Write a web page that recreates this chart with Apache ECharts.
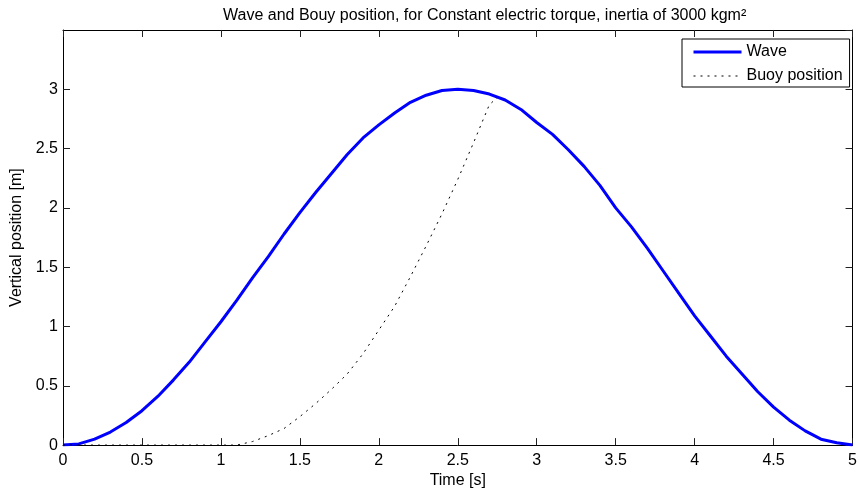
<!DOCTYPE html>
<html>
<head>
<meta charset="utf-8">
<script src="https://cdn.jsdelivr.net/npm/echarts@6/dist/echarts.min.js"></script>
<style>
html,body{margin:0;padding:0;background:#fff;}
#chart{width:860px;height:494px;}
</style>
</head>
<body>
<div id="chart"></div>
<script>
var titleText = 'Wave and Bouy position, for Constant electric torque, inertia of 3000 kgm\u00B2';
var xAxisName = 'Time [s]';
var yAxisName = 'Vertical position [m]';
var seriesNames = ['Wave', 'Buoy position'];

var waveTime = [0, 0.1, 0.2, 0.3, 0.4, 0.5, 0.6, 0.7, 0.8, 0.9,
                1.0, 1.1, 1.2, 1.3, 1.4, 1.5, 1.6, 1.7, 1.8, 1.9,
                2.0, 2.1, 2.2, 2.3, 2.4, 2.5, 2.6, 2.7, 2.8, 2.9,
                3.0, 3.1, 3.2, 3.3, 3.4, 3.5, 3.6, 3.7, 3.8, 3.9,
                4.0, 4.1, 4.2, 4.3, 4.4, 4.5, 4.6, 4.7, 4.8, 4.9, 5.0];
var waveValues = [0.00, 0.01, 0.05, 0.11, 0.19, 0.29, 0.41, 0.55, 0.70, 0.87,
                  1.04, 1.22, 1.41, 1.59, 1.78, 1.96, 2.13, 2.29, 2.45, 2.59,
                  2.70, 2.80, 2.89, 2.95, 2.99, 3.00, 2.99, 2.96, 2.91, 2.83,
                  2.72, 2.62, 2.49, 2.35, 2.19, 2.00, 1.84, 1.66, 1.47, 1.28,
                  1.09, 0.92, 0.75, 0.60, 0.45, 0.32, 0.21, 0.12, 0.05, 0.02, 0.00];

var buoyTime = [0, 0.1, 0.2, 0.3, 0.4, 0.5, 0.6, 0.7, 0.8, 0.9,
                1.0, 1.1, 1.2, 1.3, 1.4, 1.5, 1.6, 1.7, 1.8, 1.9,
                2.0, 2.1, 2.2, 2.3, 2.4, 2.5, 2.6, 2.7, 2.75];
var buoyValues = [0, 0, 0, 0, 0, 0, 0, 0, 0, 0,
                  0, 0.00, 0.03, 0.08, 0.14, 0.24, 0.35, 0.47, 0.60, 0.77,
                  0.97, 1.17, 1.42, 1.68, 1.95, 2.24, 2.55, 2.87, 2.93];

var xTickInterval = 0.5;
var yTickInterval = 0.5;

function pairs(xs, ys) {
  var out = [];
  for (var i = 0; i < xs.length; i++) out.push([xs[i], ys[i]]);
  return out;
}

var FONT = 'Liberation Sans, Arial, Helvetica, sans-serif';
var chart = echarts.init(document.getElementById('chart'), null, {renderer: 'canvas'});

var tickStyle = {show: true, inside: true, length: 7, lineStyle: {color: '#222', width: 1}};
var lineStyle = {show: true, onZero: false, lineStyle: {color: '#000', width: 1}};

chart.setOption({
  animation: false,
  backgroundColor: '#fff',
  title: {
    text: titleText,
    left: 218, top: 3,
    textStyle: {fontFamily: FONT, fontSize: 16, fontWeight: 'normal', color: '#000'}
  },
  legend: {
    orient: 'vertical',
    left: 682, top: 39,
    padding: [5, 7, 3, 10],
    itemGap: 8,
    itemWidth: 48, itemHeight: 14,
    backgroundColor: '#fff',
    borderColor: '#000', borderWidth: 1,
    itemStyle: {opacity: 0},
    textStyle: {fontFamily: FONT, fontSize: 16, color: '#000'},
    data: [
      {name: seriesNames[0], lineStyle: {width: 3}},
      {name: seriesNames[1], lineStyle: {width: 1}}
    ]
  },
  grid: {left: 63, right: 6, top: 30, bottom: 48, containLabel: false},
  xAxis: [{
    type: 'value', min: 0, max: 5, interval: xTickInterval,
    position: 'bottom',
    name: xAxisName, nameLocation: 'middle', nameGap: 25,
    nameTextStyle: {fontFamily: FONT, fontSize: 16, color: '#000'},
    axisLine: lineStyle, axisTick: tickStyle,
    axisLabel: {fontFamily: FONT, fontSize: 16, color: '#000', margin: 7},
    splitLine: {show: false}
  }, {
    type: 'value', min: 0, max: 5, interval: xTickInterval,
    position: 'top',
    axisLine: lineStyle, axisTick: tickStyle,
    axisLabel: {show: false}, splitLine: {show: false}
  }],
  yAxis: [{
    type: 'value', min: 0, max: 3.5, interval: yTickInterval,
    position: 'left',
    name: yAxisName, nameLocation: 'middle', nameGap: 35,
    nameTextStyle: {fontFamily: FONT, fontSize: 16, color: '#000'},
    axisLine: lineStyle, axisTick: tickStyle,
    axisLabel: {fontFamily: FONT, fontSize: 16, color: '#000', margin: 5, showMaxLabel: false},
    splitLine: {show: false}
  }, {
    type: 'value', min: 0, max: 3.5, interval: yTickInterval,
    position: 'right',
    axisLine: lineStyle, axisTick: tickStyle,
    axisLabel: {show: false}, splitLine: {show: false}
  }],
  series: [{
    name: seriesNames[0], type: 'line',
    xAxisIndex: 0, yAxisIndex: 0,
    data: pairs(waveTime, waveValues),
    showSymbol: false, symbol: 'none', smooth: false,
    lineStyle: {color: '#0000ff', width: 3},
    itemStyle: {color: '#0000ff'},
    z: 2
  }, {
    name: seriesNames[1], type: 'line',
    xAxisIndex: 0, yAxisIndex: 0,
    data: pairs(buoyTime, buoyValues),
    showSymbol: false, symbol: 'none', smooth: false,
    lineStyle: {color: '#000', width: 1, type: [2, 5]},
    itemStyle: {color: '#000'},
    z: 3
  }]
});
</script>
</body>
</html>
